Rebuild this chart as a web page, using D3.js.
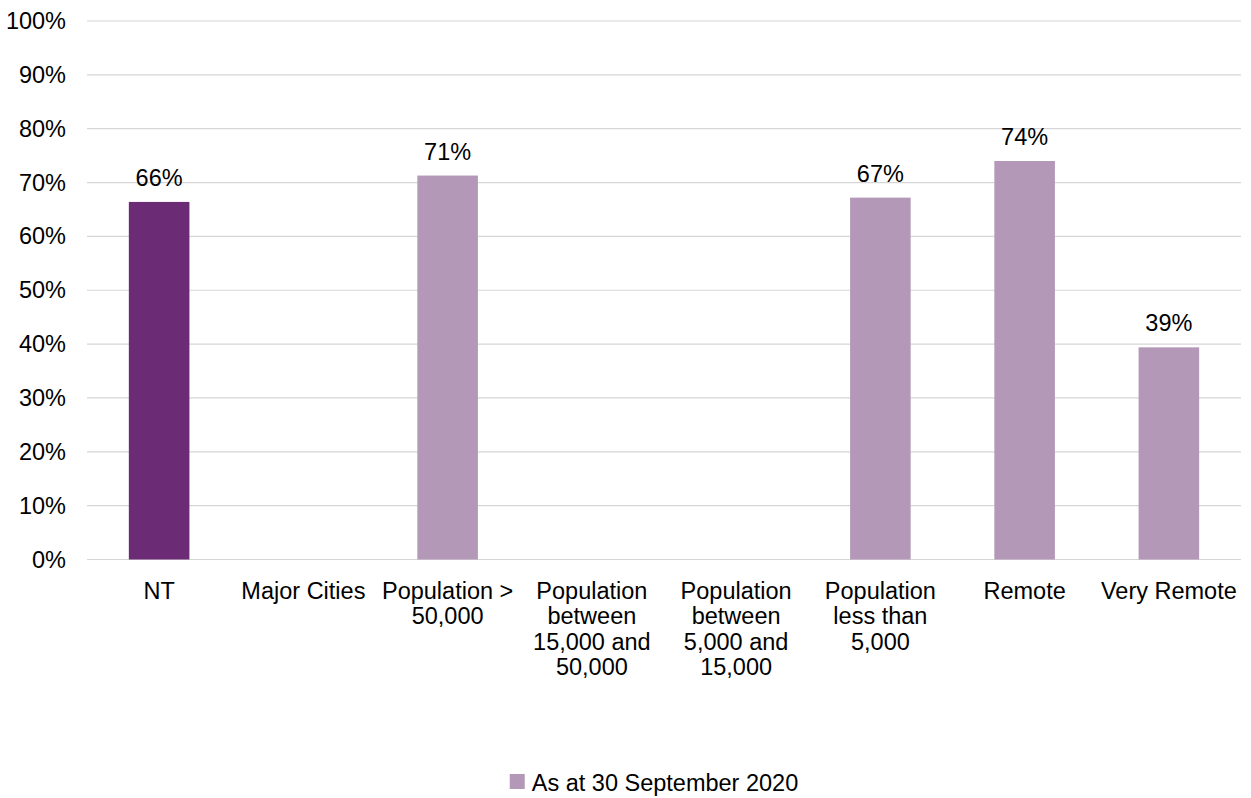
<!DOCTYPE html>
<html>
<head>
<meta charset="utf-8">
<script src="https://cdn.jsdelivr.net/npm/d3@7"></script>
<style>
  html, body { margin: 0; padding: 0; background: #fff; }
  svg { display: block; font-family: "Liberation Sans", Arial, sans-serif; }
</style>
</head>
<body>
<svg id="chart" width="1251" height="798"></svg>
<script>
// ---- data ----
const categories = [
  "NT",
  "Major Cities",
  "Population >\n50,000",
  "Population\nbetween\n15,000 and\n50,000",
  "Population\nbetween\n5,000 and\n15,000",
  "Population\nless than\n5,000",
  "Remote",
  "Very Remote"
];
const values = [66.4, null, 71.3, null, null, 67.2, 74.0, 39.4];
const labels = ["66%", "", "71%", "", "", "67%", "74%", "39%"];
const highlighted = ["NT"];
const seriesName = "As at 30 September 2020";
const yTicks = [0, 10, 20, 30, 40, 50, 60, 70, 80, 90, 100];

(function () {
// ---- layout ----
const svg = d3.select("#chart");
const mLeft = 87, mRight = 1241, mTop = 21, mBottom = 559.5;
const fontSize = 23.5;
const lightColor = "#B398B7", darkColor = "#6B2B75";

const x = d3.scaleBand().domain(categories).range([mLeft, mRight])
  .paddingInner(0.58).paddingOuter(0.29);
const y = d3.scaleLinear().domain([0, 100]).range([mBottom, mTop]);

// gridlines
svg.append("g").selectAll("line").data(yTicks).join("line")
  .attr("x1", mLeft).attr("x2", mRight)
  .attr("y1", d => y(d)).attr("y2", d => y(d))
  .attr("stroke", "#d6d6d6").attr("stroke-width", 1.2);

// y axis labels
const yAxis = d3.axisLeft(y).tickValues(yTicks).tickFormat(d => d + "%").tickSize(0).tickPadding(0);
const yg = svg.append("g").attr("transform", `translate(${mLeft - 21},0)`).call(yAxis);
yg.select(".domain").remove();
yg.selectAll("text").attr("font-size", fontSize).attr("fill", "#000")
  .attr("font-family", "Liberation Sans, Arial, sans-serif");

// bars
const data = categories.map((c, i) => ({ c, v: values[i], l: labels[i] })).filter(d => d.v != null);
svg.append("g").selectAll("rect").data(data).join("rect")
  .attr("x", d => x(d.c)).attr("width", x.bandwidth())
  .attr("y", d => y(d.v)).attr("height", d => y(0) - y(d.v))
  .attr("fill", d => highlighted.includes(d.c) ? darkColor : lightColor);

// data labels
svg.append("g").selectAll("text").data(data).join("text")
  .attr("x", d => x(d.c) + x.bandwidth() / 2)
  .attr("y", d => y(d.v) - 16)
  .attr("text-anchor", "middle").attr("font-size", fontSize).attr("fill", "#000")
  .text(d => d.l);

// category labels
const xg = svg.append("g");
categories.forEach(c => {
  const cx = x(c) + x.bandwidth() / 2;
  const t = xg.append("text")
    .attr("x", cx).attr("y", 599)
    .attr("text-anchor", "middle").attr("font-size", fontSize).attr("fill", "#000");
  c.split("\n").forEach((line, i) => {
    t.append("tspan").attr("x", cx).attr("y", 599 + i * 25.3).text(line);
  });
});

// legend
const leg = svg.append("g");
const legText = leg.append("text").attr("x", 530).attr("y", 791)
  .attr("font-size", fontSize).attr("fill", "#000").text(seriesName);
const tw = legText.node().getComputedTextLength();
const total = 15 + 7 + tw;
const lx = (mLeft + mRight) / 2 - total / 2 - 10;
leg.append("rect").attr("x", lx).attr("y", 774).attr("width", 15).attr("height", 15).attr("fill", lightColor);
legText.attr("x", lx + 22);
})();
</script>
</body>
</html>
